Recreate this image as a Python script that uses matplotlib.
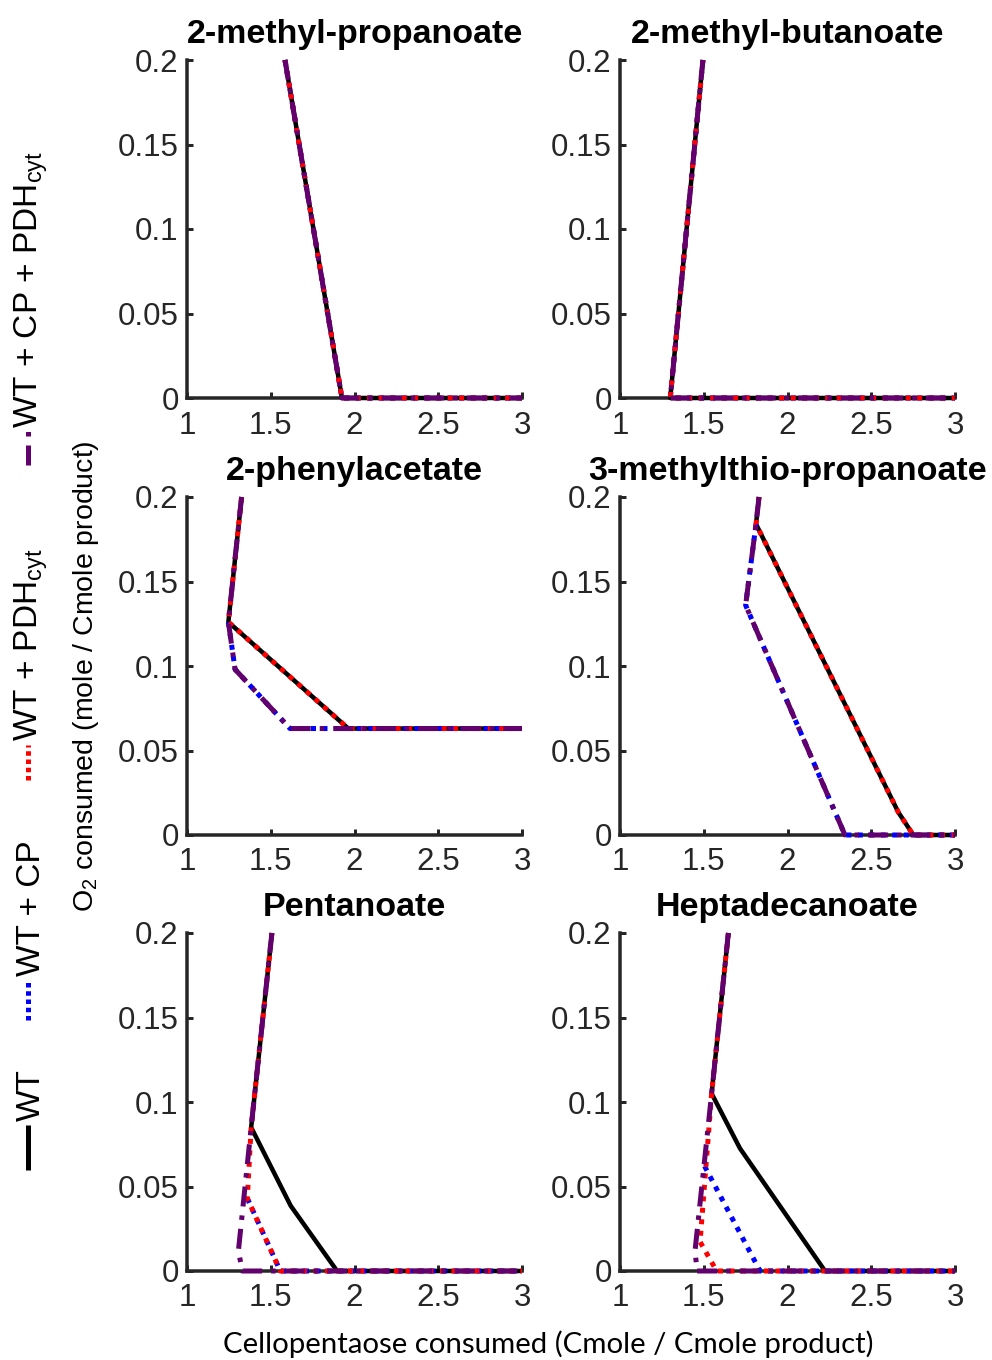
import matplotlib
matplotlib.use("Agg")
import matplotlib.pyplot as plt
from matplotlib.lines import Line2D

# ---------------------------------------------------------------------------
# Data (one inner list per panel, panel order = TITLES)
# ---------------------------------------------------------------------------
TITLES = ["2-methyl-propanoate", "2-methyl-butanoate", "2-phenylacetate",
          "3-methylthio-propanoate", "Pentanoate", "Heptadecanoate"]

X_TICKS = [1, 1.5, 2, 2.5, 3]
X_TICKLABELS = ["1", "1.5", "2", "2.5", "3"]
Y_TICKS = [0, 0.05, 0.1, 0.15, 0.2]
Y_TICKLABELS = ["0", "0.05", "0.1", "0.15", "0.2"]

# WT
WT_X = [[1.585, 1.925, 3], [1.495, 1.30, 3], [1.326, 1.247, 1.963, 3],
        [1.83, 1.812, 2.662, 2.751, 3], [1.507, 1.383, 1.619, 1.896, 3],
        [1.647, 1.547, 1.716, 2.224, 3]]
WT_Y = [[0.2, 0, 0], [0.2, 0, 0], [0.2, 0.126, 0.063, 0.063],
        [0.2, 0.184, 0.0134, 0, 0], [0.2, 0.085, 0.0386, 0, 0],
        [0.2, 0.105, 0.0726, 0, 0]]

# WT + CP
CP_X = [[1.585, 1.925, 3], [1.495, 1.30, 3], [1.247, 1.287, 1.615, 3],
        [1.812, 1.750, 2.343, 3], [1.36, 1.557, 3], [1.505, 1.836, 3]]
CP_Y = [[0.2, 0, 0], [0.2, 0, 0], [0.126, 0.098, 0.063, 0.063],
        [0.184, 0.136, 0, 0], [0.043, 0, 0], [0.062, 0, 0]]

# WT + PDHcyt
PDH_X = [[1.585, 1.925, 3], [1.495, 1.30, 3], [1.326, 1.247, 1.963, 3],
         [1.83, 1.812, 2.662, 2.751, 3], [1.507, 1.383, 1.36, 1.557, 3],
         [1.647, 1.547, 1.478, 1.577, 3]]
PDH_Y = [[0.2, 0, 0], [0.2, 0, 0], [0.2, 0.126, 0.063, 0.063],
         [0.2, 0.184, 0.0134, 0, 0], [0.2, 0.085, 0.043, 0, 0],
         [0.2, 0.105, 0.0173, 0, 0]]

# WT + CP + PDHcyt
CPPDH_X = [[1.585, 1.925, 3], [1.495, 1.30, 3],
           [1.326, 1.247, 1.287, 1.615, 3],
           [1.83, 1.812, 1.750, 2.343, 3], [1.507, 1.383, 1.307, 1.33, 3],
           [1.647, 1.547, 1.448, 1.46, 3]]
CPPDH_Y = [[0.2, 0, 0], [0.2, 0, 0], [0.2, 0.126, 0.098, 0.063, 0.063],
           [0.2, 0.184, 0.136, 0, 0], [0.2, 0.085, 0.012, 0, 0],
           [0.2, 0.105, 0.012, 0, 0]]

# ---------------------------------------------------------------------------
# Styles
# ---------------------------------------------------------------------------
PX = 0.72  # points per pixel at dpi 100
AXIS_COLOR = "#262626"
PURPLE = "#62006e"
SANS = "Liberation Sans"
DOTTED = (0, (1, 1.3))

STYLES = [
    dict(color="black", lw=4.5 * PX, ls="-"),
    dict(color="#0000ff", lw=5 * PX, ls=DOTTED),
    dict(color="#ff0000", lw=5 * PX, ls=DOTTED),
    dict(color=PURPLE, lw=5 * PX, ls=(0, (4, 1.8, 0.9, 1.8))),
]
SERIES = [(WT_X, WT_Y), (CP_X, CP_Y), (PDH_X, PDH_Y), (CPPDH_X, CPPDH_Y)]

plt.rcParams["mathtext.default"] = "regular"

W, H = 992, 1360
fig = plt.figure(figsize=(W / 100, H / 100), dpi=100)

col_left = [187, 620]
row_top = [60, 497, 933]
ax_w, ax_h = 335, 338

for i, title in enumerate(TITLES):
    r, c = divmod(i, 2)
    l, t = col_left[c], row_top[r]
    ax = fig.add_axes([l / W, 1 - (t + ax_h) / H, ax_w / W, ax_h / H])

    for (xs, ys), st in zip(SERIES, STYLES):
        ax.plot(xs[i], ys[i], color=st["color"], lw=st["lw"],
                linestyle=st["ls"], clip_on=False, zorder=3,
                solid_capstyle="butt", dash_capstyle="butt")

    ax.set_xlim(1, 3)
    ax.set_ylim(0, 0.2)
    ax.set_xticks(X_TICKS)
    ax.set_xticklabels(X_TICKLABELS)
    ax.set_yticks(Y_TICKS)
    ax.set_yticklabels(Y_TICKLABELS)
    for side in ("top", "right"):
        ax.spines[side].set_visible(False)
    for side in ("left", "bottom"):
        ax.spines[side].set_linewidth(3.5 * PX)
        ax.spines[side].set_color(AXIS_COLOR)
    ax.tick_params(direction="in", length=6 * PX, width=3 * PX,
                   colors=AXIS_COLOR, labelsize=22.5)
    ax.tick_params(axis="x", pad=9)
    ax.tick_params(axis="y", pad=6)
    for lab in ax.get_xticklabels() + ax.get_yticklabels():
        lab.set_fontfamily(SANS)
    ax.set_title(title, fontsize=24.5, fontweight="bold",
                 family=SANS, pad=12)

# ── axis labels ──
fig.text(548 / W, 1 - 1344 / H,
         "Cellopentaose consumed (Cmole / Cmole product)",
         ha="center", va="center", fontsize=21.2, family="Lato")
fig.text(86 / W, 1 - 912 / H, "O$_2$ consumed (mole / Cmole product)",
         rotation=90, ha="center", va="bottom", fontsize=20.5, family=SANS)

# ── vertical legend on the left ──
# (label, style, line start y, line end y, text start y) in pixels from top
legend_items = [
    ("WT", STYLES[0], 1170, 1125, 1121),
    ("WT + CP", STYLES[1], 1020, 979, 976),
    ("WT + PDH$_{cyt}$", STYLES[2], 780, 745, 741),
    ("WT + CP + PDH$_{cyt}$", STYLES[3], 465, 430, 428),
]
for label, st, y0, y1, ytxt in legend_items:
    ls = st["ls"] if st["ls"] != DOTTED else (0, (0.9, 0.75))
    fig.add_artist(Line2D([28 / W, 28 / W], [1 - y0 / H, 1 - y1 / H],
                          transform=fig.transFigure, color=st["color"],
                          lw=5 * PX, linestyle=ls,
                          solid_capstyle="butt", dash_capstyle="butt"))
    fig.text(31 / W, 1 - ytxt / H, label, rotation=90, ha="center",
             va="bottom", fontsize=24, family=SANS)

fig.savefig("out.png", dpi=100, facecolor="white")
